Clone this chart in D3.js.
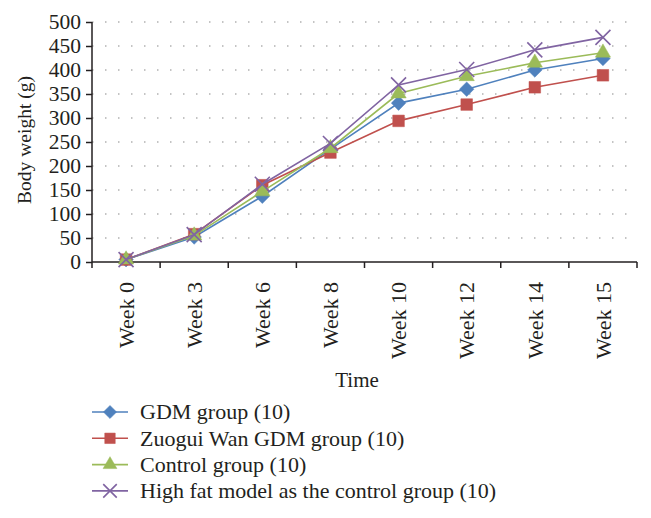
<!DOCTYPE html>
<html><head><meta charset="utf-8">
<script src="https://cdn.jsdelivr.net/npm/d3@7"></script>
<style>body{margin:0;background:#fff}svg{display:block}text{font-family:"Liberation Serif","Times New Roman",serif;fill:#231f20}</style>
</head><body><svg id="c" width="651" height="518"></svg>
<script>
const categories = ["Week 0","Week 3","Week 6","Week 8","Week 10","Week 12","Week 14","Week 15"];
const yTicks = [0,50,100,150,200,250,300,350,400,450,500];
const seriesNames = ["GDM group (10)","Zuogui Wan GDM group (10)","Control group (10)","High fat model as the control group (10)"];
const gdm      = [5, 52, 137, 235, 331, 360, 400, 424];
const zuogui   = [5, 58, 160, 228, 294, 328, 364, 389];
const control  = [5, 55, 147, 237, 351, 387, 415, 436];
const highFat  = [5, 57, 162, 247, 369, 401, 442, 468];
const colors = ["#4F81BD","#C0504D","#9BBB59","#8064A2"];
const symbols = ["diamond","square","triangle","cross"];
const seriesValues = [gdm, zuogui, control, highFat];

const svg = d3.select("#c");
const x = d3.scaleBand().domain(categories).range([92, 637]);
const y = d3.scaleLinear().domain([0,500]).range([262, 22]);

// grid
svg.append("g").selectAll("line").data(yTicks.filter(d=>d>0)).join("line")
  .attr("x1", 92).attr("x2", 637).attr("y1", d=>y(d)).attr("y2", d=>y(d))
  .attr("stroke","#8a8a8a").attr("stroke-width",1.2).attr("stroke-dasharray","1.5,11.5");

// y axis
const ya = svg.append("g").attr("transform","translate(92,0)")
  .call(d3.axisLeft(y).tickValues(yTicks).tickSize(6).tickPadding(5));
ya.selectAll("text").style("font-size","21.5px").style("font-family","Liberation Serif").style("fill","#231f20");
ya.selectAll("line,path").attr("stroke","#231f20").attr("stroke-width",1.5);
ya.select(".domain").attr("d","M0,22V262");

// x axis
const xa = svg.append("g").attr("transform","translate(0,262)")
  .call(d3.axisBottom(x).tickSize(0).tickPadding(0));
xa.select(".domain").attr("stroke","#231f20").attr("stroke-width",1.5).attr("d","M92,0H637");
xa.selectAll("text").style("font-size","22px").style("font-family","Liberation Serif").style("fill","#231f20")
  .attr("text-anchor","end").attr("dy","0.35em")
  .attr("transform","translate(0,20) rotate(-90)").attr("x",0).attr("y",0);
const bounds = categories.map(c=>x(c)).concat([637]);
xa.append("g").selectAll("line").data(bounds).join("line")
  .attr("x1",d=>d).attr("x2",d=>d).attr("y1",0).attr("y2",6)
  .attr("stroke","#231f20").attr("stroke-width",1.5);

// labels
svg.append("text").attr("transform","translate(31,"+(y(250)-2)+") rotate(-90)")
  .attr("text-anchor","middle").style("font-size","19.5px").text("Body weight (g)");
svg.append("text").attr("x",357).attr("y",387).attr("text-anchor","middle")
  .style("font-size","21px").text("Time");

function sym(i, size){
  const t = symbols[i];
  if (t==="cross") return d3.symbol().type(d3.symbolX).size(size*1.1)();
  if (t==="diamond") return d3.symbol().type(d3.symbolDiamond2).size(size*1.0)();
  if (t==="square") return d3.symbol().type(d3.symbolSquare).size(size)();
  return d3.symbol().type(d3.symbolTriangle).size(size*0.75)();
}
const cx = c => x(c) + x.bandwidth()/2;
const line = d3.line().x((d,i)=>cx(categories[i])).y(d=>y(d));

seriesValues.forEach((vals,i)=>{
  const g = svg.append("g");
  g.append("path").attr("d", line(vals)).attr("fill","none")
    .attr("stroke",colors[i]).attr("stroke-width",1.6);
  g.selectAll("path.m").data(vals).join("path").attr("class","m")
    .attr("transform",(d,j)=>`translate(${cx(categories[j])},${y(d)})`)
    .attr("d", sym(i, 135))
    .attr("fill", symbols[i]==="cross" ? "none" : colors[i])
    .attr("stroke", colors[i]).attr("stroke-width", symbols[i]==="cross"?1.6:0.5);
});

// legend
const lg = svg.append("g");
seriesNames.forEach((n,i)=>{
  const yy = 412 + i*26.3;
  lg.append("line").attr("x1",92).attr("x2",128).attr("y1",yy).attr("y2",yy)
    .attr("stroke",colors[i]).attr("stroke-width",1.6);
  lg.append("path").attr("transform",`translate(110,${yy})`).attr("d", sym(i, 110))
    .attr("fill", symbols[i]==="cross" ? "none" : colors[i])
    .attr("stroke", colors[i]).attr("stroke-width", symbols[i]==="cross"?1.6:0.5);
  lg.append("text").attr("x",140).attr("y",yy).attr("dy","0.33em")
    .style("font-size","22px").text(n);
});
</script></body></html>
